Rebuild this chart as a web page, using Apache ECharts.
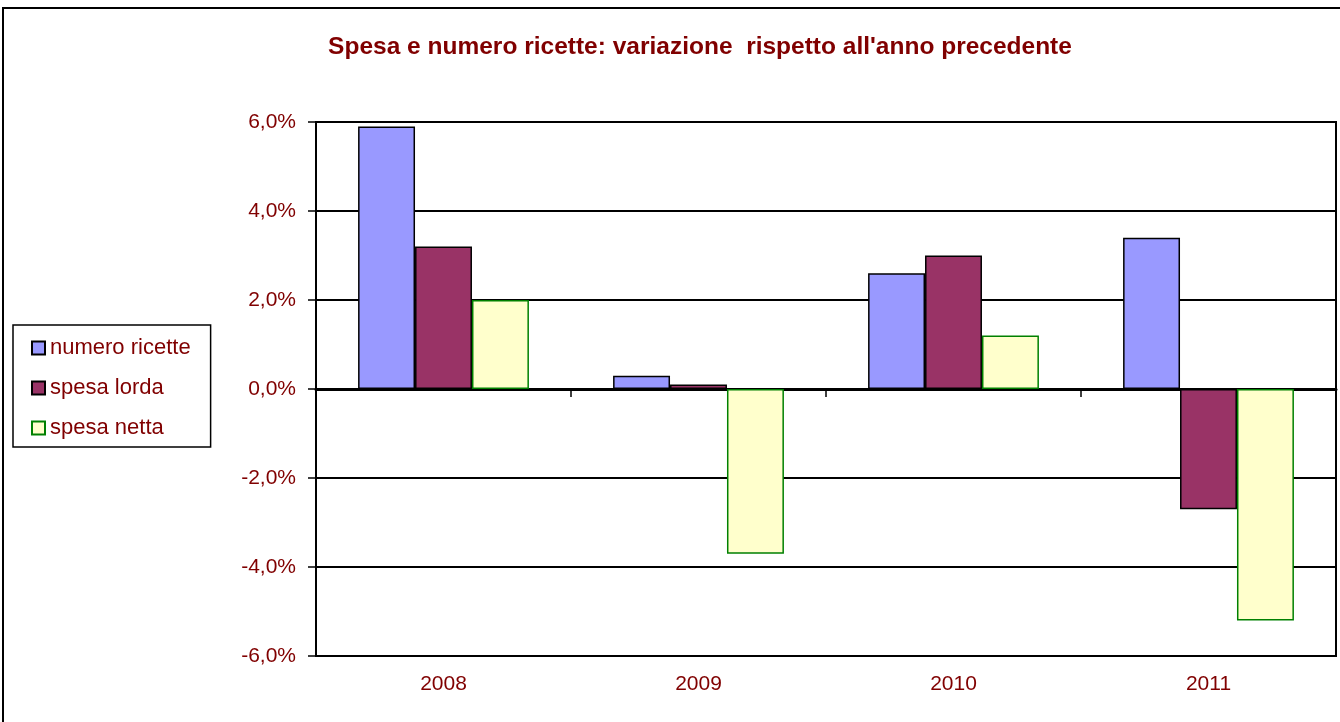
<!DOCTYPE html>
<html>
<head>
<meta charset="utf-8">
<script src="https://cdn.jsdelivr.net/npm/echarts@6/dist/echarts.min.js"></script>
<style>html,body{margin:0;padding:0;background:#fff;}#c{width:1340px;height:722px;}</style>
</head>
<body>
<div id="c"></div>
<script>
const categories = ['2008', '2009', '2010', '2011'];
const numeroRicette = [5.9, 0.3, 2.6, 3.4];
const spesaLorda = [3.2, 0.1, 3.0, -2.7];
const spesaNetta = [2.0, -3.7, 1.2, -5.2];
const seriesNames = ['numero ricette', 'spesa lorda', 'spesa netta'];

const red = '#800000';
const font = 'Liberation Sans, Arial, sans-serif';
const chart = echarts.init(document.getElementById('c'));
chart.setOption({
  backgroundColor: '#fff',
  animation: false,
  title: {
    text: "Spesa e numero ricette: variazione  rispetto all'anno precedente",
    left: 695, textAlign: 'center', top: 30,
    textStyle: { color: red, fontSize: 24.5, fontWeight: 'bold', fontFamily: font }
  },
  graphic: [{
    type: 'rect', shape: { x: 3, y: 8, width: 1345, height: 730 },
    style: { fill: 'none', stroke: '#000', lineWidth: 2 }, silent: true, z: -1
  }],
  legend: {
    orient: 'vertical', left: 13, top: 325,
    padding: [12, 20, 8, 18], itemGap: 18, itemWidth: 13, itemHeight: 13,
    borderColor: '#000', borderWidth: 1.5,
    icon: 'rect',
    textStyle: { color: red, fontSize: 22, fontFamily: font, lineHeight: 22 },
    data: seriesNames
  },
  grid: { left: 316, right: 4, top: 122, bottom: 66, show: true, borderColor: '#000', borderWidth: 2 },
  xAxis: [{
    type: 'category', data: categories,
    axisLine: { onZero: true, lineStyle: { color: '#000', width: 3 } },
    axisTick: { show: true, length: 8, lineStyle: { color: '#000', width: 1.5 } },
    axisLabel: { show: false }
  }, {
    type: 'category', data: categories, position: 'bottom',
    axisLine: { show: false }, axisTick: { show: false },
    axisLabel: { color: red, fontSize: 21, fontFamily: font, margin: 18 }
  }],
  yAxis: {
    type: 'value', min: -6, max: 6, interval: 2,
    axisLine: { show: true, lineStyle: { color: '#000', width: 2 } },
    axisTick: { show: true, length: 8, lineStyle: { color: '#000', width: 1.5 } },
    splitLine: { lineStyle: { color: '#000', width: 2 } },
    axisLabel: {
      color: red, fontSize: 21, fontFamily: font, margin: 20,
      formatter: v => v.toFixed(1).replace('.', ',') + '%'
    }
  },
  series: [{
    name: seriesNames[0], type: 'bar', data: numeroRicette, xAxisIndex: 0,
    barGap: '0%', barCategoryGap: '33%',
    itemStyle: { color: '#9999FF', borderColor: '#000', borderWidth: 1.5 }
  }, {
    name: seriesNames[1], type: 'bar', data: spesaLorda, xAxisIndex: 0,
    barGap: '0%', barCategoryGap: '33%',
    itemStyle: { color: '#993366', borderColor: '#000', borderWidth: 1.5 }
  }, {
    name: seriesNames[2], type: 'bar', data: spesaNetta, xAxisIndex: 0,
    barGap: '0%', barCategoryGap: '33%',
    itemStyle: { color: '#FFFFCC', borderColor: '#008000', borderWidth: 1.5 }
  }]
});
</script>
</body>
</html>
